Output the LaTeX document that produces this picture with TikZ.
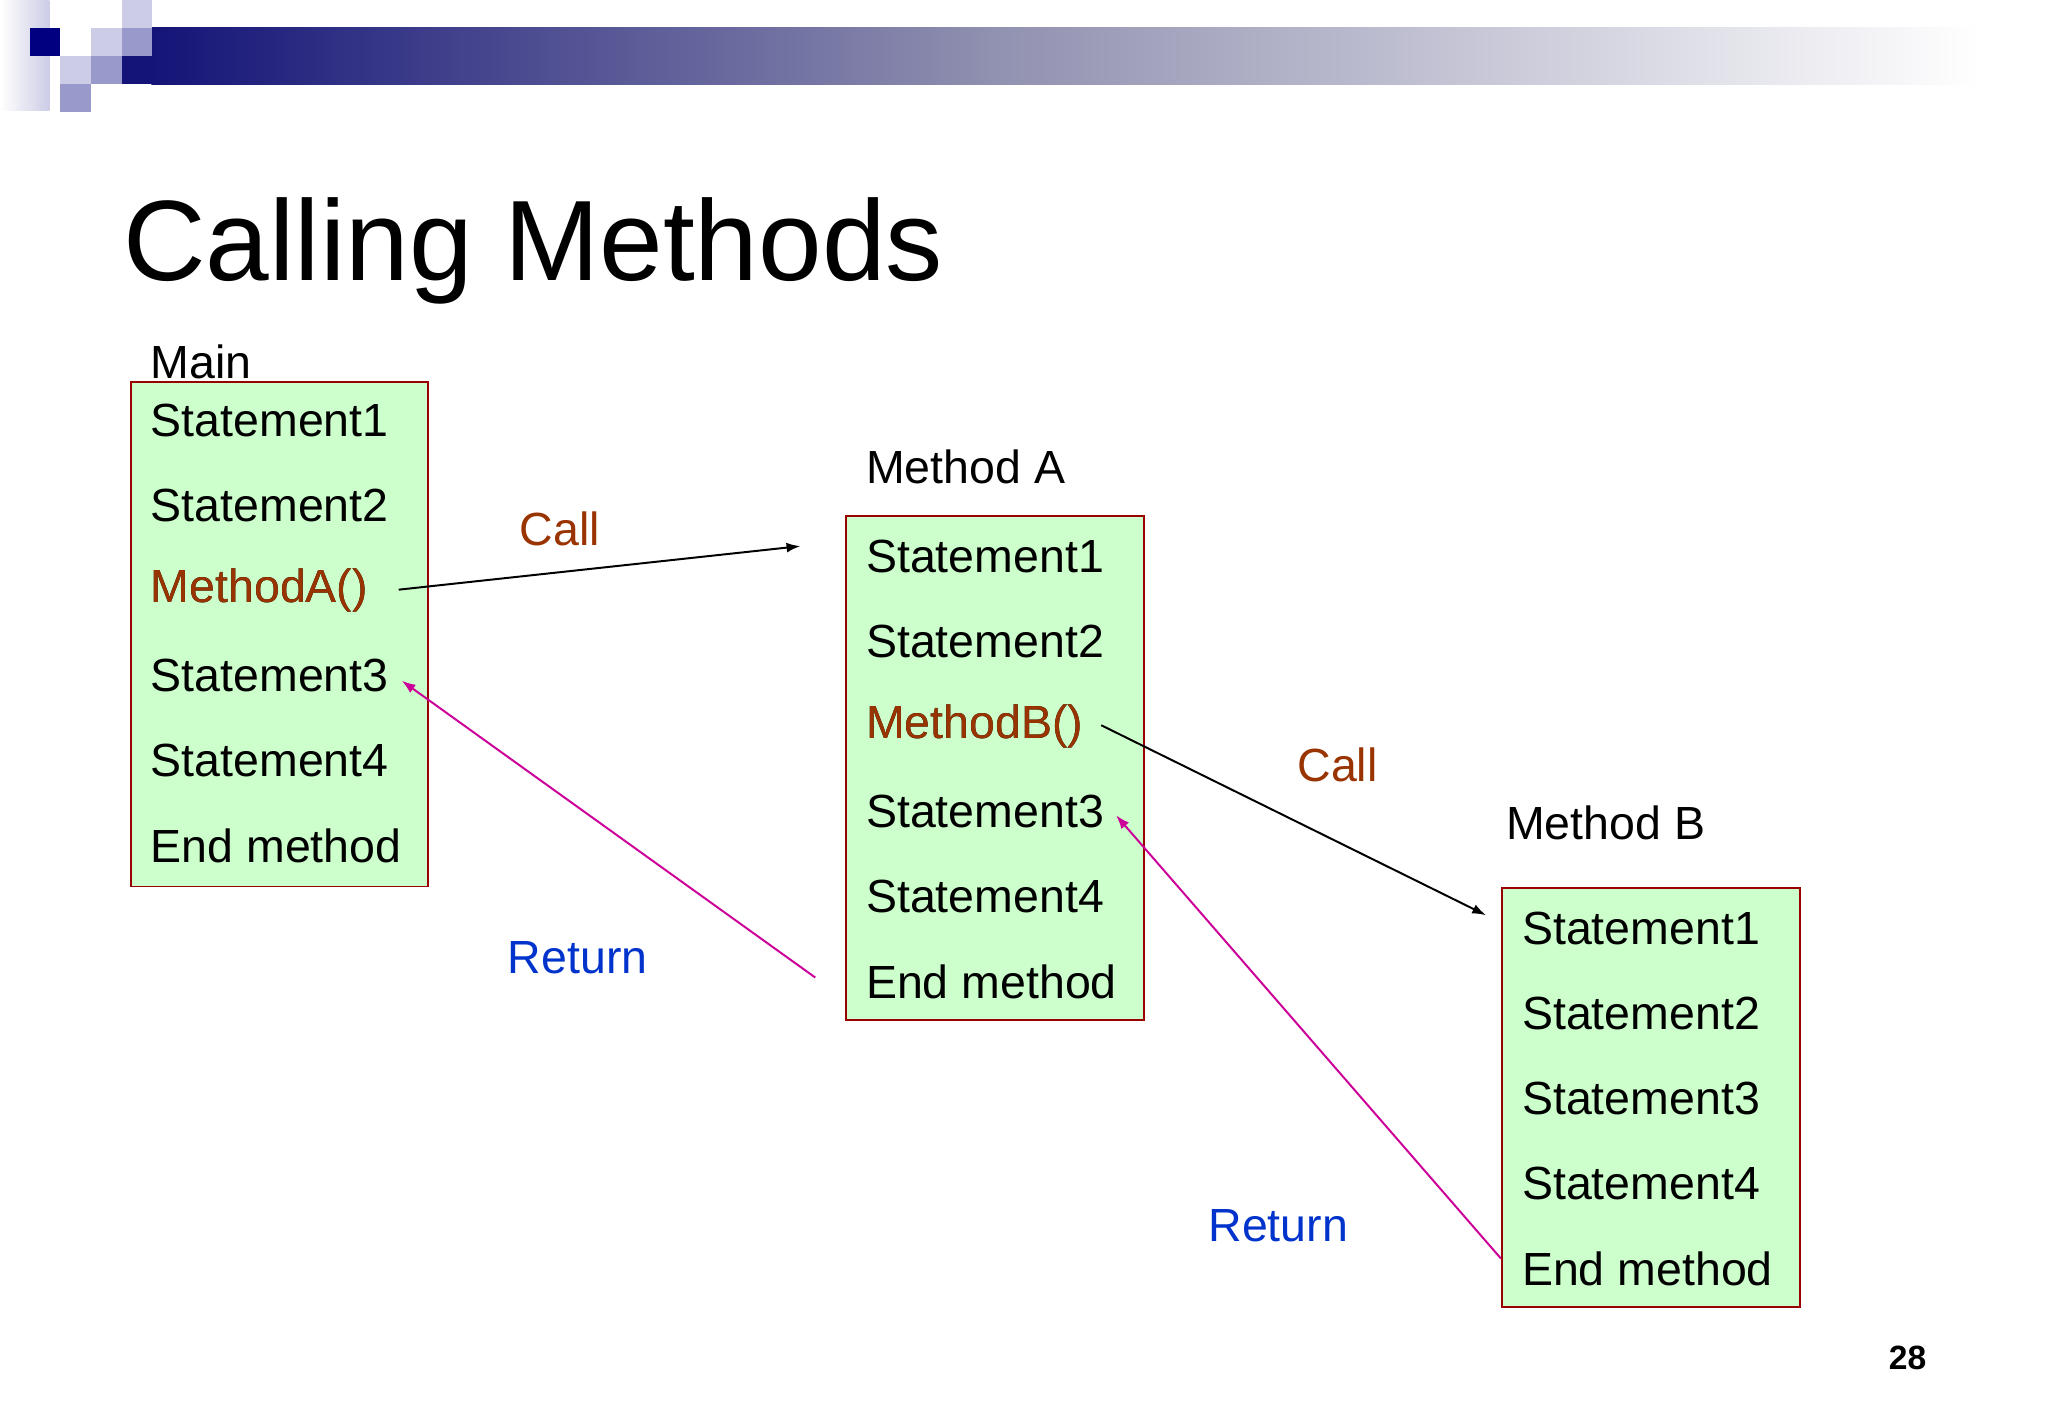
\documentclass[tikz,border=0pt]{standalone}
\usepackage{fontspec}
\setmainfont{Liberation Sans}
\usetikzlibrary{arrows.meta}
\definecolor{bx}{HTML}{CCFFCC}
\definecolor{bd}{HTML}{990000}
\definecolor{brn}{HTML}{993300}
\definecolor{mag}{HTML}{CC0099}
\definecolor{blu}{HTML}{0033CC}
\definecolor{navy}{HTML}{000080}
\definecolor{barL}{HTML}{141478}
\definecolor{barM}{HTML}{9090B0}
\definecolor{lsq}{HTML}{CCCCE6}
\definecolor{msq}{HTML}{9999CC}
\begin{document}
\begin{tikzpicture}[x=0.5pt,y=-0.5pt,
  txt/.style={anchor=west,inner sep=0pt,font=\fontsize{23.5}{28}\selectfont},
  box/.style={draw=bd,fill=bx,line width=1pt},
  carrow/.style={-{Latex[length=7pt,width=5pt]},line width=1pt},
  rarrow/.style={-{Latex[length=7pt,width=5pt]},line width=1pt,mag}]
\useasboundingbox (0,0) rectangle (2070,1434);
\fill[white] (0,0) rectangle (2070,1434);
% header decoration
\shade[left color=white,right color=lsq,shading angle=90] (0,0) rectangle (50,112);
\shade[left color=barL,right color=barM] (153,28) rectangle (1000,85);
\shade[left color=barM,right color=white] (999,28) rectangle (2000,85);
\fill[barL] (123,57) rectangle (154,85);
\fill[navy] (30,28) rectangle (61,57);
\fill[lsq] (92,28) rectangle (123,57);
\fill[lsq] (123,0) rectangle (154,28);
\fill[msq] (123,28) rectangle (154,57);
\fill[lsq] (61,57) rectangle (92,85);
\fill[msq] (92,57) rectangle (123,85);
\fill[msq] (61,85) rectangle (92,113);
% title
\node[anchor=base west,inner sep=0pt,font=\fontsize{57.8}{64}\selectfont] (title) at (124,284) {Calling Methods};
% boxes
\draw[box] (132,386) rectangle (433,896);
\draw[box] (855,522) rectangle (1156,1031);
\draw[box] (1518,898) rectangle (1819,1321);
\node[txt] (lmain) at (152,366) {Main};
\node[txt] (lA) at (875,472) {Method A};
\node[txt] (lB) at (1522,832) {Method B};
\foreach \t [count=\i] in {Statement1,Statement2,MethodA(),Statement3,Statement4,End method}
  \node[txt] (m\i) at (152,{425+86*(\i-1)}) {\t};
\node[txt,text=brn] at (m3.west) {MethodA()};
\foreach \t [count=\i] in {Statement1,Statement2,MethodB(),Statement3,Statement4,End method}
  \node[txt] (a\i) at (875,{562+86*(\i-1)}) {\t};
\node[txt,text=brn] at (a3.west) {MethodB()};
\foreach \t [count=\i] in {Statement1,Statement2,Statement3,Statement4,End method}
  \node[txt] (b\i) at (1538,{938+86*(\i-1)}) {\t};
% labels
\node[txt,text=brn] (c1) at (525,535) {Call};
\node[txt,text=brn] (c2) at (1311,773) {Call};
\node[txt,text=blu] (r1) at (513,968) {Return};
\node[txt,text=blu] (r2) at (1221,1239) {Return};
% arrows
\coordinate (p1) at (403,596); \coordinate (q1) at (809,552);
\coordinate (p2) at (1113,733); \coordinate (q2) at (1502,925);
\coordinate (s1) at (824,988); \coordinate (t1) at (406,688);
\coordinate (s2) at (1517,1272); \coordinate (t2) at (1128,824);
\draw[carrow] (p1) -- (q1);
\draw[carrow] (p2) -- (q2);
\draw[rarrow] (s1) -- (t1);
\draw[rarrow] (s2) -- (t2);
\node[anchor=base,inner sep=0pt,font=\bfseries\fontsize{17}{20}\selectfont] (pg) at (1928,1384) {28};
\end{tikzpicture}
\end{document}
